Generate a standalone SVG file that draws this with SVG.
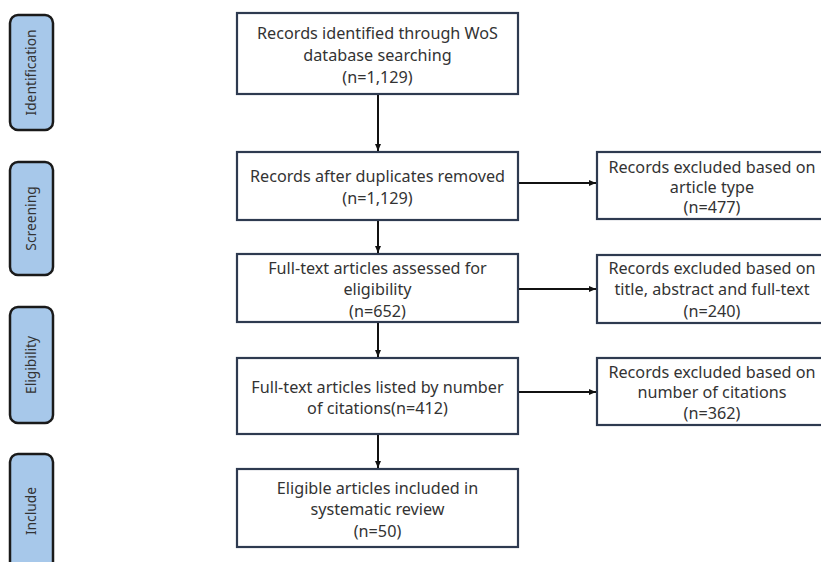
<svg xmlns="http://www.w3.org/2000/svg" width="821" height="562" viewBox="0 0 821 562">
<style>
.tab{fill:#a7c8ea;stroke:#1a1a1a;stroke-width:2.5}
.tt{font-family:"Noto Sans","Liberation Sans",sans-serif;font-size:13.8px;fill:#333;text-anchor:middle}
.box{fill:#fff;stroke:#2e3a50;stroke-width:2.2}
.t{font-family:"Noto Sans","Liberation Sans",sans-serif;font-size:16.2px;fill:#333;text-anchor:middle}
.c{stroke:#111;stroke-width:2;fill:none;marker-end:url(#ah)}
</style>
<defs>
<marker id="ah" markerWidth="8" markerHeight="8" refX="7" refY="4" orient="auto" markerUnits="userSpaceOnUse">
<path d="M0,1 L7,4 L0,7 Z" fill="#111"/>
</marker>
</defs>
<rect width="821" height="562" fill="#fff"/>
<g id="tab-identification"><rect class="tab" x="10" y="15" width="43" height="115" rx="8"/><text class="tt" transform="translate(36,72.5) rotate(-90)">Identification</text></g>
<g id="tab-screening"><rect class="tab" x="10" y="162" width="43" height="113" rx="8"/><text class="tt" transform="translate(36,218.5) rotate(-90)">Screening</text></g>
<g id="tab-eligibility"><rect class="tab" x="10" y="307" width="43" height="116" rx="8"/><text class="tt" transform="translate(36,365) rotate(-90)">Eligibility</text></g>
<g id="tab-include"><rect class="tab" x="10" y="454" width="43" height="120" rx="8"/><text class="tt" transform="translate(36,511) rotate(-90)">Include</text></g>

<g id="n1"><rect class="box" x="237" y="13" width="281" height="81"/>
<text class="t" x="377.5" y="39">Records identified through WoS</text>
<text class="t" x="377.5" y="61">database searching</text>
<text class="t" x="377.5" y="83">(n=1,129)</text></g>
<g id="n2"><rect class="box" x="237" y="152" width="281" height="68"/>
<text class="t" x="377.5" y="182">Records after duplicates removed</text>
<text class="t" x="377.5" y="204">(n=1,129)</text></g>
<g id="n3"><rect class="box" x="237" y="254" width="281" height="68"/>
<text class="t" x="377.5" y="274">Full-text articles assessed for</text>
<text class="t" x="377.5" y="295">eligibility</text>
<text class="t" x="377.5" y="317">(n=652)</text></g>
<g id="n4"><rect class="box" x="237" y="358" width="281" height="76"/>
<text class="t" x="377.5" y="393">Full-text articles listed by number</text>
<text class="t" x="377.5" y="414">of citations(n=412)</text></g>
<g id="n5"><rect class="box" x="237" y="469" width="281" height="78"/>
<text class="t" x="377.5" y="494">Eligible articles included in</text>
<text class="t" x="377.5" y="515">systematic review</text>
<text class="t" x="377.5" y="537">(n=50)</text></g>

<g id="r1"><rect class="box" x="597" y="152" width="232" height="67"/>
<text class="t" x="712" y="173">Records excluded based on</text>
<text class="t" x="712" y="193">article type</text>
<text class="t" x="712" y="213">(n=477)</text></g>
<g id="r2"><rect class="box" x="597" y="255" width="232" height="68"/>
<text class="t" x="712" y="274">Records excluded based on</text>
<text class="t" x="712" y="295">title, abstract and full-text</text>
<text class="t" x="712" y="317">(n=240)</text></g>
<g id="r3"><rect class="box" x="597" y="358" width="232" height="67"/>
<text class="t" x="712" y="378">Records excluded based on</text>
<text class="t" x="712" y="398">number of citations</text>
<text class="t" x="712" y="419">(n=362)</text></g>

<g id="connectors">
<line class="c" x1="378" y1="95" x2="378" y2="151"/>
<line class="c" x1="378" y1="221" x2="378" y2="253"/>
<line class="c" x1="378" y1="323" x2="378" y2="357"/>
<line class="c" x1="378" y1="435" x2="378" y2="468"/>
<line class="c" x1="519" y1="183" x2="596" y2="183"/>
<line class="c" x1="519" y1="289" x2="596" y2="289"/>
<line class="c" x1="519" y1="392" x2="596" y2="392"/>
</g>
</svg>
